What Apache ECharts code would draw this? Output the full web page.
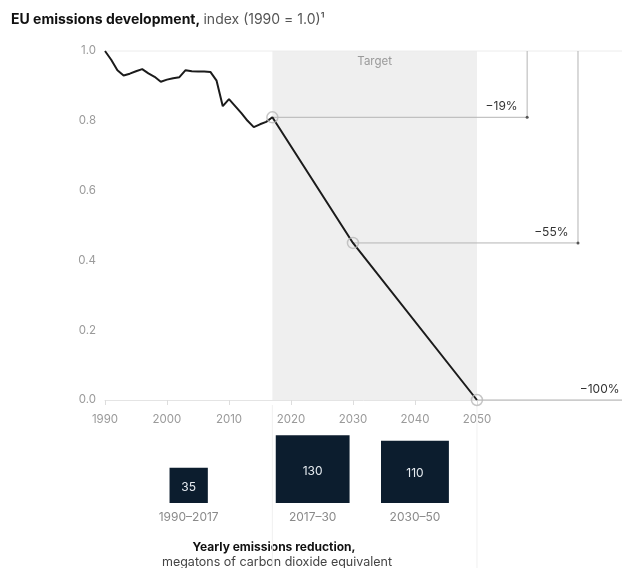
<!DOCTYPE html>
<html>
<head>
<meta charset="utf-8">
<script src="https://cdn.jsdelivr.net/npm/echarts@6/dist/echarts.min.js"></script>
<style>html,body{margin:0;padding:0;background:#fff}#c{width:622px;height:568px}</style>
</head>
<body>
<div id="c"></div>
<script>
// ---- data ----
const years = [1990,1991,1992,1993,1994,1995,1996,1997,1998,1999,2000,2001,2002,2003,2004,2005,2006,2007,2008,2009,2010,2011,2012,2013,2014,2015,2016,2017];
const emissions = [1.000,0.975,0.945,0.930,0.935,0.942,0.948,0.936,0.926,0.912,0.918,0.922,0.925,0.945,0.942,0.941,0.941,0.940,0.915,0.842,0.862,0.842,0.822,0.800,0.782,0.790,0.797,0.810];
const targetYears = [2017, 2030, 2050];
const targetValues = [0.81, 0.45, 0.0];
const targetLabels = ['\u221219%', '\u221255%', '\u2212100%'];
const periods = ['1990\u20132017', '2017\u201330', '2030\u201350'];
const periodStart = [1990, 2017, 2030];
const periodEnd = [2017, 2030, 2050];
const reductions = [35, 130, 110];
const xTicks = [1990, 2000, 2010, 2020, 2030, 2040, 2050];
const yTicks = [0, 0.2, 0.4, 0.6, 0.8, 1.0];

// ---- layout / style constants ----
const X_MIN = 1990, X_MAX = 2073.4;
const bracketX = [2058.1, 2066.3, X_MAX];
const FONT = 'Inter, "Noto Sans", sans-serif';
const GRAY = '#9a9a9a';
const LINEGRAY = '#b4b4b4';

const lineData = years.map((y, i) => [y, emissions[i]]).concat(
  targetYears.slice(1).map((y, i) => [y, targetValues[i + 1]]));

const bracketSeries = targetYears.map((ty, i) => {
  const pts = [[ty, targetValues[i]], [bracketX[i], targetValues[i]]];
  if (i < 2) pts.push([bracketX[i], yTicks[yTicks.length - 1]]);
  return {
    type: 'line', xAxisIndex: 0, yAxisIndex: 0, clip: false, silent: true, z: 2,
    lineStyle: { color: LINEGRAY, width: 1 }, symbol: 'none',
    data: pts.map((p, k) => k === 1 ? {
      value: p,
      symbol: 'circle', symbolSize: i < 2 ? 3 : 1,
      itemStyle: { color: i < 2 ? '#555' : 'rgba(0,0,0,0)' },
      label: {
        show: true, formatter: targetLabels[i], position: 'left',
        distance: i < 2 ? 8 : 2, offset: [0, -11],
        color: '#333', fontSize: 12, fontFamily: FONT
      }
    } : p)
  };
});

const squareData = reductions.map((v, i) => [(periodStart[i] + periodEnd[i]) / 2, v]);

const option = {
  animation: false,
  textStyle: { fontFamily: FONT },
  grid: [
    { left: 105, right: 0, top: 51, bottom: 168 },
    { left: 105, right: 0, top: 405, bottom: 65 }
  ],
  xAxis: [
    {
      type: 'value', gridIndex: 0, min: X_MIN, max: X_MAX,
      axisLine: { show: true, lineStyle: { color: '#e4e4e4' } },
      axisTick: { show: true, customValues: xTicks, length: 5, lineStyle: { color: '#dddddd' } },
      axisLabel: { show: true, customValues: xTicks, color: GRAY, fontSize: 11.5, margin: 14, fontFamily: FONT,
        formatter: v => String(v) },
      splitLine: { show: false }
    },
    { type: 'value', gridIndex: 1, min: X_MIN, max: X_MAX, show: false }
  ],
  yAxis: [
    {
      type: 'value', gridIndex: 0, min: 0, max: 1, interval: 0.2,
      axisLine: { show: false }, axisTick: { show: false },
      axisLabel: { color: GRAY, fontSize: 11.5, margin: 9, fontFamily: FONT, formatter: v => v.toFixed(1) },
      splitLine: { show: false }
    },
    { type: 'value', gridIndex: 1, min: 0, max: 16.5, show: false }
  ],
  graphic: [
    {
      type: 'text', left: 11, top: 13,
      style: {
        text: '{b|EU emissions development,} {n|index (1990 = 1.0)\u00b9}',
        rich: {
          b: { fontSize: 14, fontWeight: 'bold', fill: '#111', fontFamily: FONT },
          n: { fontSize: 14, fill: '#555', fontFamily: FONT }
        }
      }
    },
    {
      type: 'text', x: 274, y: 547,
      style: { text: 'Yearly emissions reduction,', align: 'center', verticalAlign: 'middle',
        font: 'bold 12px ' + FONT, fill: '#111' }
    },
    {
      type: 'text', x: 277, y: 562,
      style: { text: 'megatons of carbon dioxide equivalent', align: 'center', verticalAlign: 'middle',
        font: '12.5px ' + FONT, fill: '#444' }
    }
  ],
  series: [
    {
      type: 'line', xAxisIndex: 0, yAxisIndex: 0, silent: true, z: 1,
      data: [[X_MIN, yTicks[yTicks.length - 1]], [X_MAX, yTicks[yTicks.length - 1]]],
      symbol: 'none', lineStyle: { color: '#ececec', width: 1 }, clip: false
    },
    {
      type: 'line', xAxisIndex: 0, yAxisIndex: 0, z: 3,
      data: lineData, symbol: 'none',
      lineStyle: { color: '#1b1b1b', width: 2 },
      markArea: {
        silent: true,
        itemStyle: { color: '#efefef' },
        label: { show: true, position: 'insideTop', distance: 5, color: GRAY, fontSize: 11.5, fontFamily: FONT },
        data: [[
          { name: 'Target', xAxis: targetYears[0], yAxis: 0 },
          { xAxis: targetYears[targetYears.length - 1], yAxis: 1 }
        ]]
      }
    },
    ...bracketSeries,
    {
      type: 'scatter', xAxisIndex: 0, yAxisIndex: 0, z: 4, silent: true,
      data: targetYears.map((y, i) => [y, targetValues[i]]),
      symbol: 'circle', symbolSize: 11, clip: false,
      itemStyle: { color: 'rgba(255,255,255,0)', borderColor: '#b8b8b8', borderWidth: 1.5 }
    },
    {
      type: 'custom', xAxisIndex: 1, yAxisIndex: 1, silent: true, z: 1,
      data: [targetYears[0], targetYears[targetYears.length - 1]],
      renderItem: function (params, api) {
        const p = api.coord([api.value(0), 16.5]);
        return { type: 'line', shape: { x1: p[0], y1: p[1], x2: p[0], y2: api.getHeight() },
          style: { stroke: '#f0f0f0', lineWidth: 1 } };
      }
    },
    {
      type: 'custom', xAxisIndex: 1, yAxisIndex: 1, silent: true, z: 2,
      data: squareData,
      renderItem: function (params, api) {
        const i = params.dataIndex;
        const v = api.value(1);
        const base = api.coord([api.value(0), 0]);
        const h = api.size([0, Math.sqrt(v)])[1];
        const w = h * 1.09;
        return {
          type: 'group',
          children: [
            { type: 'rect', shape: { x: base[0] - w / 2, y: base[1] - h, width: w, height: h },
              style: { fill: '#0c1d2e' } },
            { type: 'text', style: { text: String(v), x: base[0], y: base[1] - h / 2 + 2,
                align: 'center', verticalAlign: 'middle', font: '12px ' + FONT, fill: '#e6ebf0' } },
            { type: 'text', style: { text: periods[i], x: base[0], y: base[1] + 14,
                align: 'center', verticalAlign: 'middle', font: '12px ' + FONT, fill: '#8a8a8a' } }
          ]
        };
      }
    }
  ]
};

const chart = echarts.init(document.getElementById('c'), null, { renderer: 'canvas' });
chart.setOption(option);
</script>
</body>
</html>
